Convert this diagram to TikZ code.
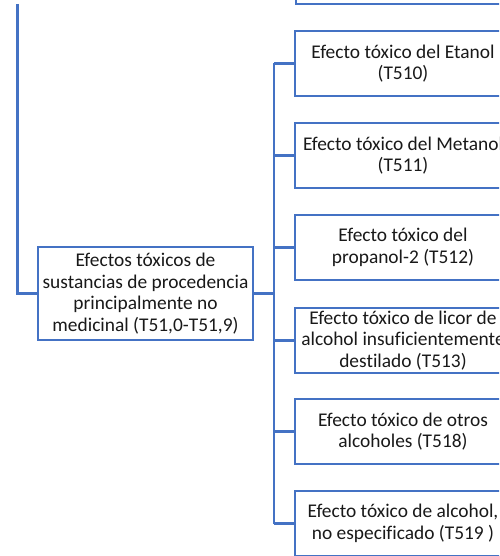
\documentclass[tikz,border=0pt]{standalone}
\usepackage{fontspec}
\setmainfont[Ligatures={NoCommon}]{Carlito}
\definecolor{lineblue}{HTML}{4472C4}
\begin{document}
\begin{tikzpicture}[x=1pt,y=-1pt,
  box/.style={draw=lineblue,line width=2.2pt,fill=white,minimum width=216pt,minimum height=65pt,
    align=center,font=\fontsize{19.4}{21.7}\selectfont,inner sep=0pt,text=black!90},
  conn/.style={draw=lineblue,line width=2.2pt}]
\useasboundingbox (0,0) rectangle (499,556);
\clip (0,0) rectangle (499,556);
% partial box at top
\node[box,anchor=south west] (top) at (295,5) {};
% parent
\node[box,minimum width=215pt,minimum height=93pt] (p) at (145.5,293.5)
  {Efectos tóxicos de\\sustancias de procedencia\\principalmente no\\medicinal (T51,0-T51,9)};
% children
\node[box] (c1) at (403,63.5) {Efecto tóxico del Etanol\\(T510)};
\node[box] (c2) at (403,155.5) {Efecto tóxico del Metanol\\(T511)};
\node[box] (c3) at (403,247.5) {Efecto tóxico del\\propanol-2 (T512)};
\node[box] (c4) at (403,340.5) {Efecto tóxico de licor de\\alcohol insuficientemente\\destilado (T513)};
\node[box] (c5) at (403,431.5) {Efecto tóxico de otros\\alcoholes (T518)};
\node[box] (c6) at (403,523.5) {Efecto tóxico de alcohol,\\no especificado (T519 )};
% left trunk
\coordinate (ltop) at (17.5,4);
\coordinate (lbot) at (17.5,293.5);
\draw[conn] (ltop) -- (lbot) -- (p.west);
% bus
\coordinate (b1) at (274,63.5);
\coordinate (b6) at (274,523.5);
\coordinate (bp) at (274,293.5);
\draw[conn] (p.east) -- (bp);
\draw[conn] (b1) -- (b6);
\foreach \c in {c1,c2,c3,c4,c5,c6}{
  \draw[conn] (274,0 |- \c.west) -- (\c.west);
}
\end{tikzpicture}
\end{document}
